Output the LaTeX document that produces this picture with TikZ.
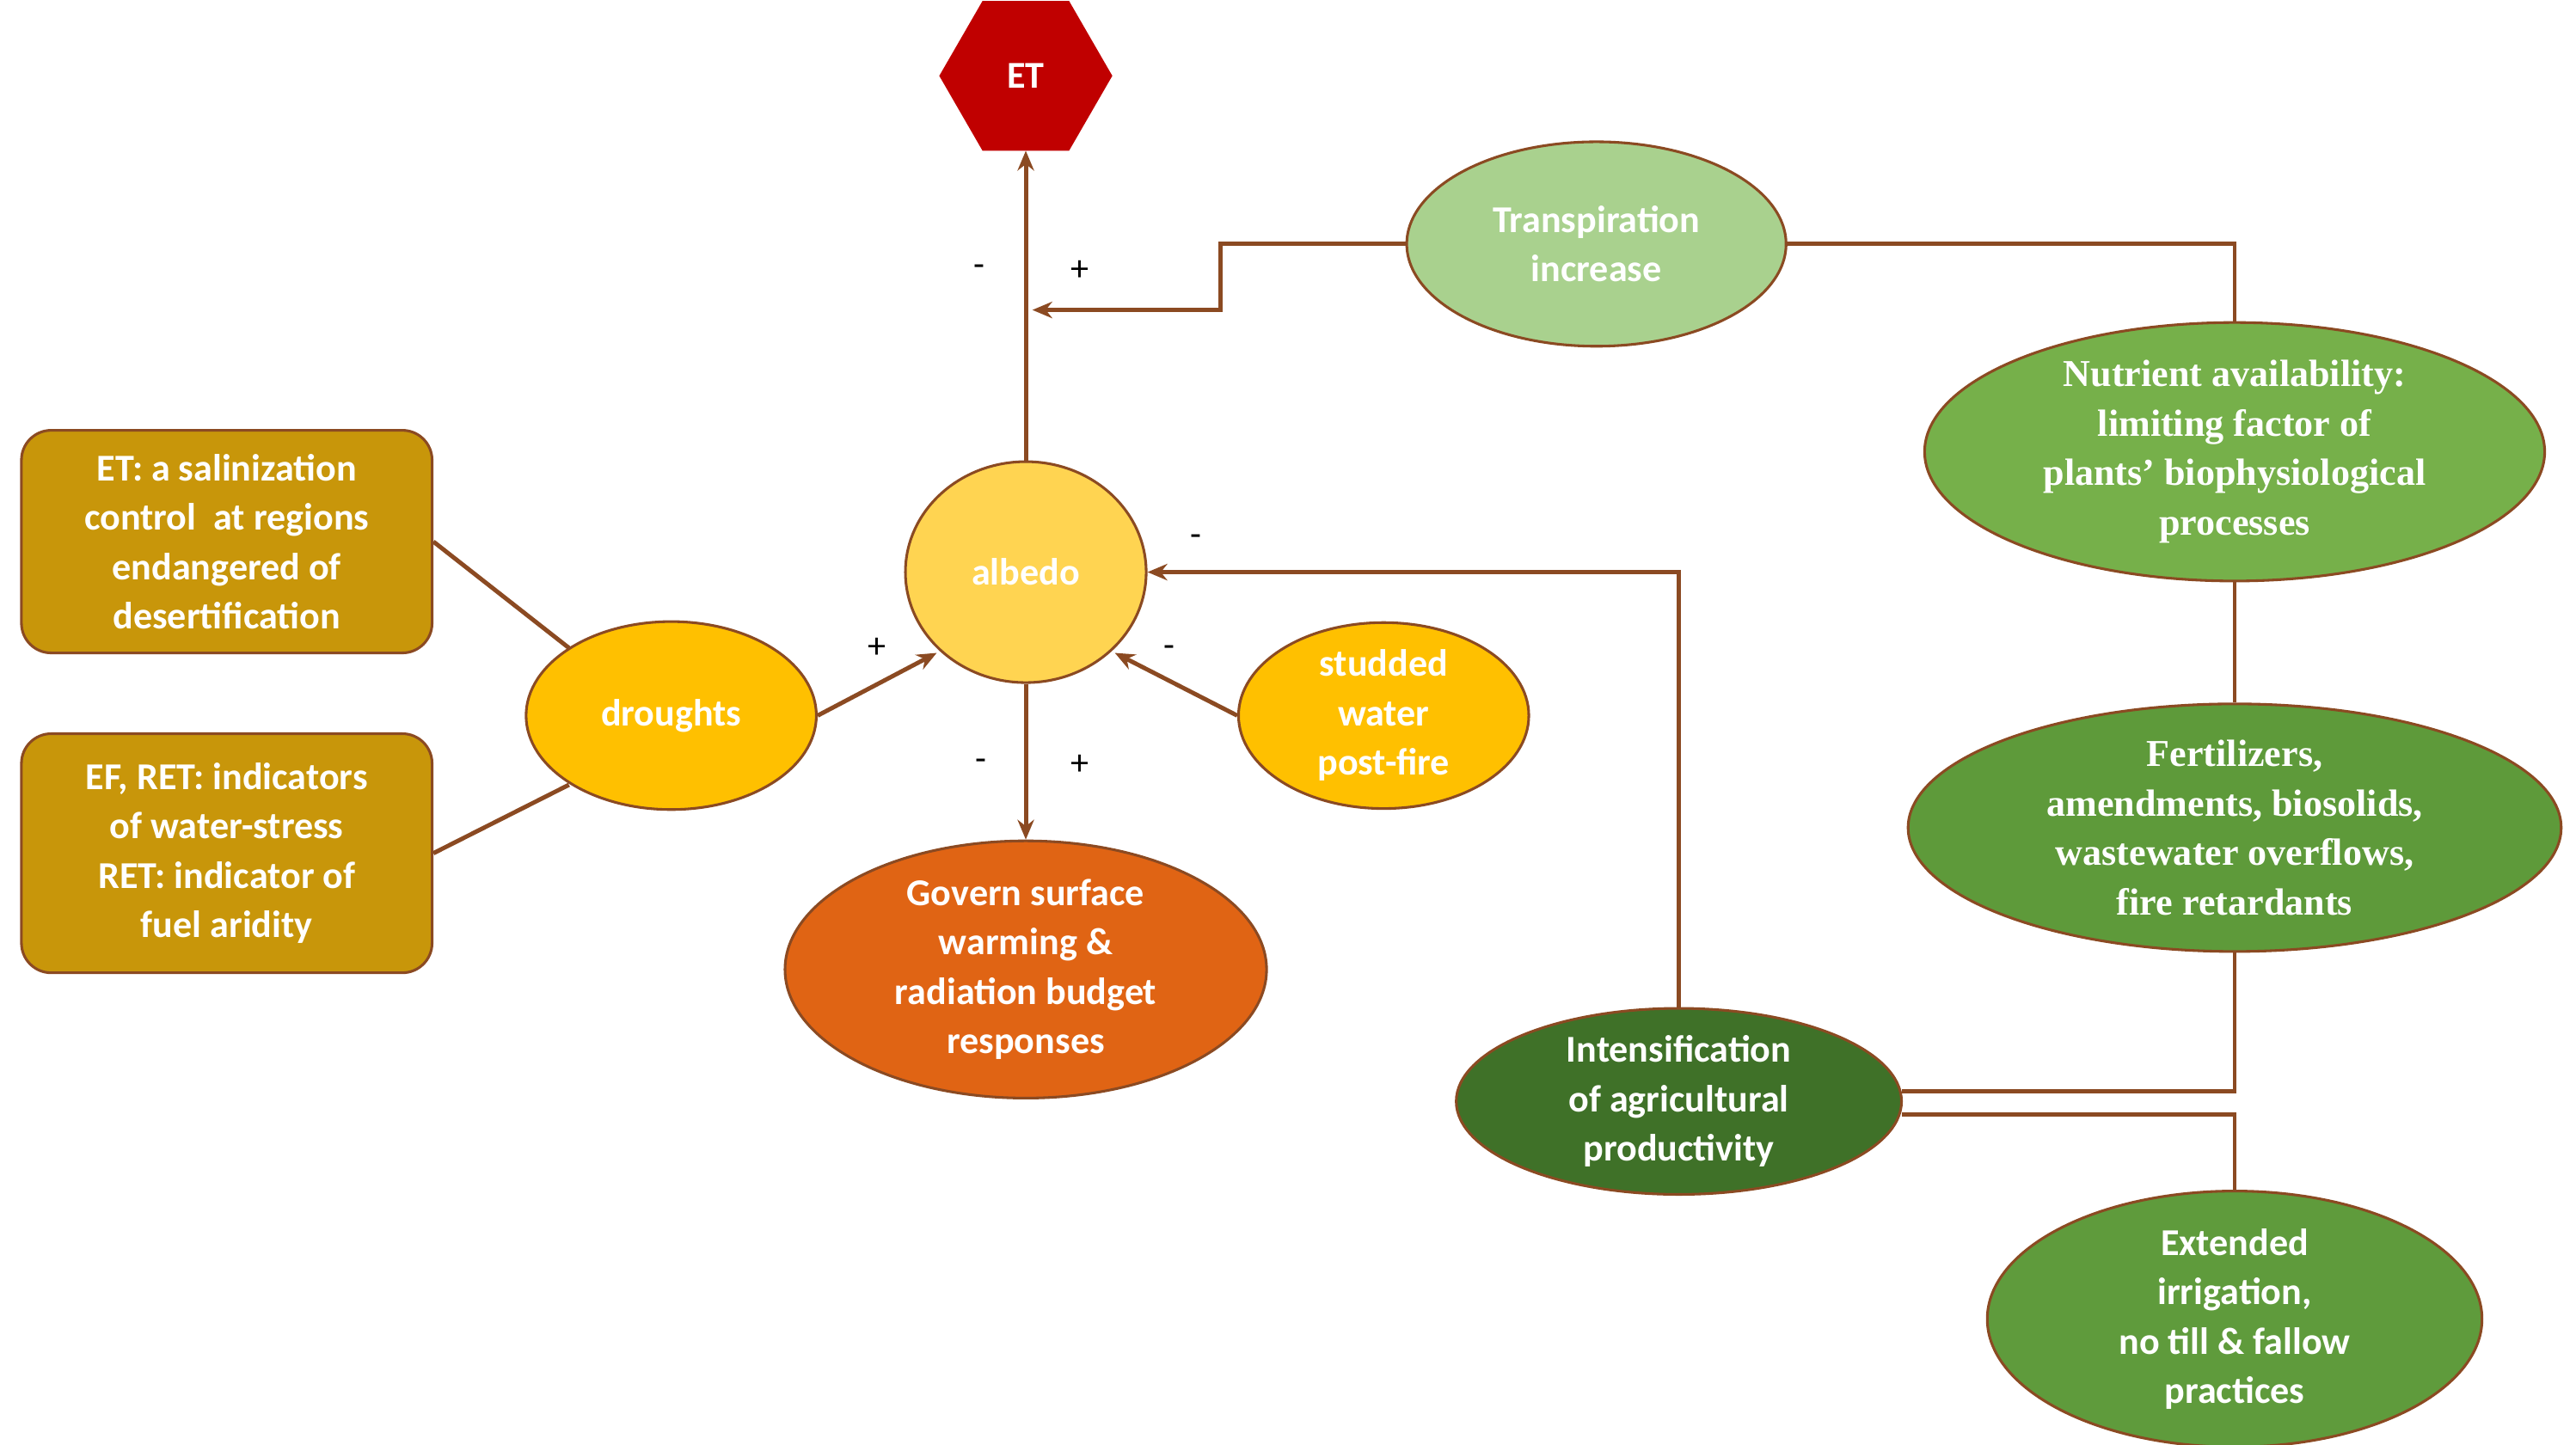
\documentclass[tikz,border=0pt]{standalone}
\usepackage{fontspec}
\setmainfont{Carlito}
\newfontfamily\serifb{Liberation Serif}
\usetikzlibrary{shapes.geometric,arrows.meta}
\definecolor{ln}{HTML}{8B4A22}
\definecolor{etred}{HTML}{C00000}
\definecolor{trg}{HTML}{A9D18E}
\definecolor{nug}{HTML}{76B04A}
\definecolor{feg}{HTML}{5E9A3A}
\definecolor{ing}{HTML}{3F7128}
\definecolor{exg}{HTML}{5F9B3C}
\definecolor{alb}{HTML}{FFD451}
\definecolor{dry}{HTML}{FFC000}
\definecolor{gov}{HTML}{E06414}
\definecolor{box}{HTML}{C8960A}
\begin{document}
\begin{tikzpicture}[x=0.5pt,y=-0.5pt,
 every node/.style={font=\fontsize{11.5}{15}\selectfont\bfseries, text=white, align=center},
 ell/.style={ellipse, draw=ln, line width=0.8pt, inner sep=0pt},
 bx/.style={rectangle, rounded corners=9pt, draw=ln, line width=0.8pt, fill=box, minimum width=124.5pt, minimum height=67.5pt},
 con/.style={draw=ln, line width=1.3pt},
 arr/.style={con, -{Stealth[length=6pt,width=5pt]}},
 sg/.style={text=black, font=\fontsize{11}{13}\selectfont}]
\useasboundingbox (0,0) rectangle (1562,876);
\node[regular polygon, regular polygon sides=6, shape border rotate=0, fill=etred, draw=etred, minimum size=52pt, xscale=1, inner sep=0pt] (et) at (622,46) {};
\node at (622,46) {ET};
\node[ell, fill=trg, minimum width=115pt, minimum height=62pt] (tr) at (968,148) {Transpiration\\increase};
\node[ell, fill=nug, minimum width=188pt, minimum height=72pt, font=\serifb\fontsize{11.5}{15}\selectfont\bfseries] (nu) at (1355,274) {Nutrient availability:\\limiting factor of\\plants’ biophysiological\\processes};
\node[ell, fill=feg, minimum width=198pt, minimum height=65pt, font=\serifb\fontsize{11.5}{15}\selectfont\bfseries] (fe) at (1355,502) {Fertilizers,\\amendments, biosolids,\\wastewater overflows,\\fire retardants};
\node[ell, fill=ing, minimum width=135pt, minimum height=55pt] (in) at (1018,668) {Intensification\\of agricultural\\productivity};
\node[ell, fill=exg, minimum width=150pt, minimum height=65pt] (ex) at (1355,800) {Extended\\irrigation,\\no till \& fallow\\practices};
\node[ell, fill=alb, minimum width=73pt, minimum height=67pt] (al) at (622,347) {albedo};
\node[ell, fill=dry, minimum width=88pt, minimum height=57pt] (dr) at (407,434) {droughts};
\node[ell, fill=dry, minimum width=88pt, minimum height=55pt] (st) at (839,434) {studded\\water\\post-fire};
\node[ell, fill=gov, minimum width=146pt, minimum height=78pt] (go) at (622,588) {Govern surface\\warming \&\\radiation budget\\responses};
\node[bx] (b1) at (137.5,328.5) {ET: a salinization\\control\ \ at regions\\endangered of\\desertification};
\node[bx, minimum height=72.5pt] (b2) at (137.5,517.5) {EF, RET: indicators\\of water-stress\\RET: indicator of\\fuel aridity};
\coordinate (tj) at (626,188);
\draw[arr] (al.north) -- (et.south);
\draw[arr] (tr.west) -| (740,188) -- (tj);
\draw[con] (tr.east) -| (nu.north);
\draw[con] (nu.south) -- (fe.north);
\draw[con] (fe.south) |- (1153,662);
\draw[con] (1153,676) -| (ex.north);
\draw[arr] (in.north) |- (al.east);
\draw[arr] (dr.east) -- (568,396);
\draw[arr] (st.west) -- (676,396);
\draw[arr] (al.south) -- (go.north);
\draw[con] (b1.east) ++(0,0) -- (345,393);
\draw[con] (b2.east) -- (345,476);
\node[sg] at (594,164) {-};
\node[sg] at (655,164) {+};
\node[sg] at (725,328) {-};
\node[sg] at (532,393) {+};
\node[sg] at (709,395) {-};
\node[sg] at (595,464) {-};
\node[sg] at (655,464) {+};
\end{tikzpicture}
\end{document}
